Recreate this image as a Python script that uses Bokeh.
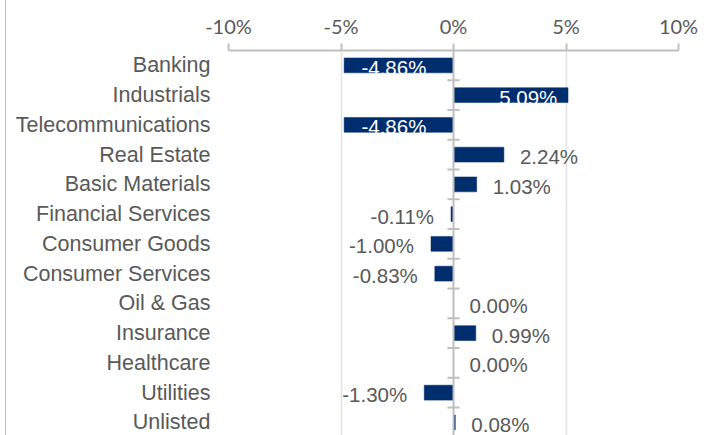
from bokeh.plotting import figure
from bokeh.models import ColumnDataSource, Range1d, FixedTicker, Span
from bokeh.embed import file_html
from bokeh.resources import INLINE
from bokeh.core.properties import value
import numpy as np

categories = ["Banking", "Industrials", "Telecommunications", "Real Estate",
              "Basic Materials", "Financial Services", "Consumer Goods",
              "Consumer Services", "Oil & Gas", "Insurance", "Healthcare",
              "Utilities", "Unlisted"]
values = [-4.86, 5.09, -4.86, 2.24, 1.03, -0.11, -1.00, -0.83, 0.00, 0.99, 0.00, -1.30, 0.08]
xticks = [-10, -5, 0, 5, 10]
xtick_labels = ["-10%", "-5%", "0%", "5%", "10%"]

NAVY = "#002D6E"
GREY_TXT = "#595959"

n = len(categories)
ypos = np.arange(n)
vals = np.array(values)
labels = ["%.2f%%" % v for v in values]

W, H = 706, 435
p = figure(width=W, height=H, output_backend="svg", toolbar_location=None,
           x_range=Range1d(-10, 10), y_range=Range1d(12.44, -0.5),
           x_axis_location="above", min_border_left=222, min_border_right=W - 222 - 450,
           min_border_top=50, min_border_bottom=0)
p.styles = {"border-left": "1px solid #bfbfbf", "margin-left": "5px"}
p.outline_line_color = None
p.background_fill_color = "white"

# x axis on top
xa = p.xaxis[0]
xa.ticker = FixedTicker(ticks=xticks)
xa.major_label_overrides = {t: l for t, l in zip(xticks, xtick_labels)}
xa.axis_line_color = "#bfbfbf"
xa.axis_line_width = 2
xa.major_tick_line_color = "#bfbfbf"
xa.major_tick_line_width = 2
xa.major_tick_out = 7
xa.major_tick_in = 0
xa.minor_tick_line_color = None
xa.major_label_text_font = "Lato"
xa.major_label_text_font_size = "20px"
xa.major_label_text_color = GREY_TXT
xa.major_label_standoff = 6

# y axis: category names
ya = p.yaxis[0]
ya.ticker = FixedTicker(ticks=list(ypos))
ya.major_label_overrides = {int(i): c for i, c in zip(ypos, categories)}
ya.axis_line_color = None
ya.major_tick_line_color = None
ya.minor_tick_line_color = None
ya.major_label_text_font = "Liberation Sans"
ya.major_label_text_font_size = "21.5px"
ya.major_label_text_color = GREY_TXT
ya.major_label_standoff = 12

p.xgrid.ticker = FixedTicker(ticks=[t for t in xticks if t != 0])
p.xgrid.grid_line_color = "#e3e3e3"
p.xgrid.grid_line_width = 1.5
p.ygrid.grid_line_color = None

src = ColumnDataSource(dict(y=ypos, v=vals, lab=labels))
p.hbar(y="y", left=0, right="v", height=0.5, source=src,
       fill_color=NAVY, line_color=NAVY, line_width=0.5)

# zero axis line with category-boundary ticks
p.add_layout(Span(location=0, dimension="height", line_color="#bfbfbf", line_width=2))
bounds = np.arange(n) + 0.5
p.segment(x0=-0.27, x1=0.27, y0=bounds, y1=bounds, line_color="#bfbfbf", line_width=2)

big = np.abs(vals) > 4
small_pos = (~big) & (vals >= 0)
small_neg = (~big) & (vals < 0)

common = dict(text_font=value("Liberation Sans"), text_font_size="20.5px",
              text_baseline="middle", y_offset=2)
s_in = ColumnDataSource(dict(x=vals[big] * 0.6, y=ypos[big], t=np.array(labels)[big]))
p.text(x="x", y="y", text="t", source=s_in, text_color="white", text_align="center",
       x_offset=6, **common)
s_pos = ColumnDataSource(dict(x=vals[small_pos], y=ypos[small_pos], t=np.array(labels)[small_pos]))
p.text(x="x", y="y", text="t", source=s_pos, text_color=GREY_TXT, text_align="left",
       x_offset=16, **common)
s_neg = ColumnDataSource(dict(x=vals[small_neg], y=ypos[small_neg], t=np.array(labels)[small_neg]))
p.text(x="x", y="y", text="t", source=s_neg, text_color=GREY_TXT, text_align="right",
       x_offset=-17, **common)

open("out.html", "w").write(file_html(p, INLINE))
